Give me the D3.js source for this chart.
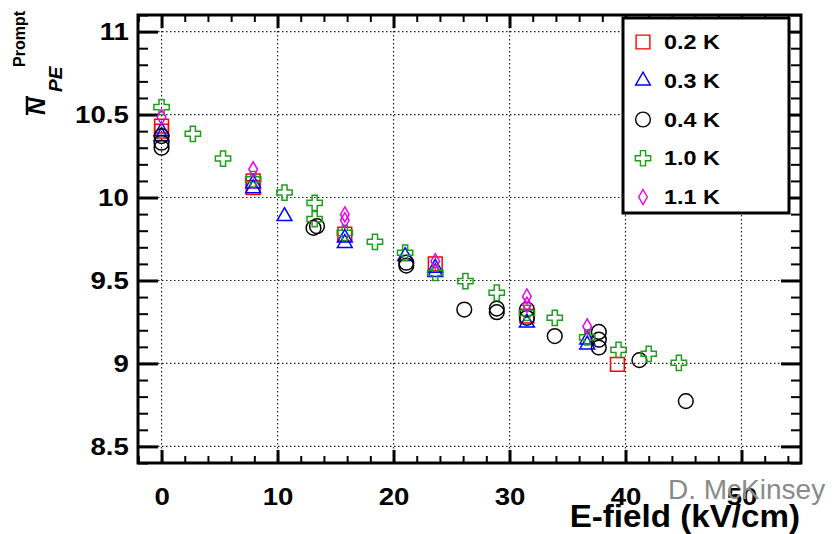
<!DOCTYPE html>
<html>
<head>
<meta charset="utf-8">
<script src="https://cdn.jsdelivr.net/npm/d3@7"></script>
<style>
  body { margin: 0; background: #fff; }
  text { font-family: "Liberation Sans", Arial, sans-serif; }
</style>
</head>
<body>
<div id="chart"></div>
<script>
// values: field (kV/cm) and mean prompt photoelectrons
const field02 = [0, 0, 7.9, 7.9, 15.8, 23.6, 31.5, 39.3];
const npe02   = [10.43, 10.40, 10.10, 10.06, 9.78, 9.60, 9.285, 8.995];

const field03 = [0, 0, 7.9, 7.9, 10.6, 15.8, 15.8, 21.0, 23.6, 23.6, 31.5, 36.7, 36.7];
const npe03   = [10.40, 10.37, 10.085, 10.055, 9.887, 9.757, 9.725, 9.646, 9.576, 9.55, 9.245, 9.143, 9.113];

const field04 = [0, 0, 0, 13.1, 13.4, 21.1, 21.1, 26.1, 28.9, 28.9, 31.5, 31.5, 33.9, 37.7, 37.7, 37.7, 41.2, 45.2];
const npe04   = [10.37, 10.33, 10.30, 9.817, 9.827, 9.607, 9.59, 9.325, 9.331, 9.309, 9.325, 9.275, 9.165, 9.19, 9.143, 9.096, 9.02, 8.773];

const field10 = [0, 2.7, 5.3, 7.9, 10.6, 13.2, 13.2, 15.8, 18.4, 21.0, 23.6, 26.2, 28.9, 31.5, 33.9, 36.7, 39.4, 42.0, 44.6];
const npe10   = [10.545, 10.384, 10.235, 10.11, 10.03, 9.968, 9.87, 9.787, 9.733, 9.667, 9.546, 9.496, 9.426, 9.305, 9.275, 9.157, 9.082, 9.058, 9.004];

const field11 = [0, 7.9, 15.8, 15.8, 23.6, 31.5, 31.5, 36.7];
const npe11   = [10.485, 10.17, 9.898, 9.863, 9.616, 9.404, 9.354, 9.223];

const legendLabels = ["0.2 K", "0.3 K", "0.4 K", "1.0 K", "1.1 K"];
const xTicks = [0, 10, 20, 30, 40, 50];
const yTicks = [8.5, 9, 9.5, 10, 10.5, 11];
const yTickLabels = ["8.5", "9", "9.5", "10", "10.5", "11"];

const width = 833, height = 534;
const plot = {left: 138, right: 801, top: 15, bottom: 463};

const svg = d3.select("#chart").append("svg")
    .attr("width", width)
    .attr("height", height);

const xScale = d3.scaleLinear().domain([-2.03, 55.13]).range([plot.left, plot.right]);
const yScale = d3.scaleLinear().domain([8.4, 11.1]).range([plot.bottom, plot.top]);

// grid
svg.append("g").selectAll("line").data(xTicks).enter().append("line")
    .attr("x1", d => xScale(d)).attr("x2", d => xScale(d))
    .attr("y1", plot.top).attr("y2", plot.bottom)
    .attr("stroke", "#222").attr("stroke-width", 1.2).attr("stroke-dasharray", "1.5,2.5");
svg.append("g").selectAll("line").data(yTicks).enter().append("line")
    .attr("y1", d => yScale(d)).attr("y2", d => yScale(d))
    .attr("x1", plot.left).attr("x2", plot.right)
    .attr("stroke", "#222").attr("stroke-width", 1.2).attr("stroke-dasharray", "1.5,2.5");

// axes, ticks pointing inside like ROOT
const xMinor = d3.range(-2, 55.01, 2);
const yMinor = d3.range(8.4, 11.101, 0.1).map(v => Math.round(v * 10) / 10);

function styleAxis(g, w) {
    g.select(".domain").remove();
    g.selectAll(".tick line").attr("stroke", "#000").attr("stroke-width", w);
}

svg.append("g").attr("transform", `translate(0,${plot.bottom})`)
    .call(d3.axisBottom(xScale).tickValues(xMinor).tickSize(-7).tickFormat(""))
    .call(g => styleAxis(g, 2));
svg.append("g").attr("transform", `translate(0,${plot.top})`)
    .call(d3.axisTop(xScale).tickValues(xMinor).tickSize(-7).tickFormat(""))
    .call(g => styleAxis(g, 2));
svg.append("g").attr("transform", `translate(${plot.left},0)`)
    .call(d3.axisLeft(yScale).tickValues(yMinor).tickSize(-10).tickFormat(""))
    .call(g => styleAxis(g, 2));
svg.append("g").attr("transform", `translate(${plot.right},0)`)
    .call(d3.axisRight(yScale).tickValues(yMinor).tickSize(-10).tickFormat(""))
    .call(g => styleAxis(g, 2));

const xAxis = svg.append("g").attr("transform", `translate(0,${plot.bottom})`)
    .call(d3.axisBottom(xScale).tickValues(xTicks).tickSize(-13).tickPadding(25).tickFormat(d3.format("d")))
    .call(g => styleAxis(g, 3));
svg.append("g").attr("transform", `translate(0,${plot.top})`)
    .call(d3.axisTop(xScale).tickValues(xTicks).tickSize(-13).tickFormat(""))
    .call(g => styleAxis(g, 3));
const yAxis = svg.append("g").attr("transform", `translate(${plot.left},0)`)
    .call(d3.axisLeft(yScale).tickValues(yTicks).tickSize(-20).tickPadding(8)
        .tickFormat((d, i) => yTickLabels[i]))
    .call(g => styleAxis(g, 3));
svg.append("g").attr("transform", `translate(${plot.right},0)`)
    .call(d3.axisRight(yScale).tickValues(yTicks).tickSize(-20).tickFormat(""))
    .call(g => styleAxis(g, 3));

// the slide stretched the plot a little horizontally
svg.selectAll(".tick text")
    .attr("font-family", "Liberation Sans, Arial, sans-serif")
    .attr("font-weight", "bold")
    .attr("font-size", 24)
    .attr("fill", "#000")
    .attr("transform", "scale(1.15,1)");

// frame
svg.append("rect")
    .attr("x", plot.left).attr("y", plot.top)
    .attr("width", plot.right - plot.left).attr("height", plot.bottom - plot.top)
    .attr("fill", "none").attr("stroke", "#000").attr("stroke-width", 3);

// markers
const series = [
    {x: field02, y: npe02, color: "#ff0000", symbol: d3.symbolSquare, size: 190},
    {x: field03, y: npe03, color: "#0000ff", symbol: d3.symbolTriangle, size: 95},
    {x: field04, y: npe04, color: "#000000", symbol: d3.symbolCircle, size: 170},
    {x: field10, y: npe10, color: "#1f9e1f", symbol: d3.symbolCross, size: 130},
    {x: field11, y: npe11, color: "#ee00ee", symbol: d3.symbolDiamond, size: 65}
];

series.forEach(function(s) {
    const pts = s.x.map((v, i) => [v, s.y[i]]);
    svg.append("g").selectAll("path").data(pts).enter().append("path")
        .attr("d", d3.symbol().type(s.symbol).size(s.size))
        .attr("transform", d => `translate(${xScale(d[0])},${yScale(d[1])})`)
        .attr("fill", "none")
        .attr("stroke", s.color)
        .attr("stroke-width", 1.5);
});

// legend
const legend = svg.append("g");
legend.append("rect")
    .attr("x", 623).attr("y", 18).attr("width", 166).attr("height", 195)
    .attr("fill", "#fff").attr("stroke", "#000").attr("stroke-width", 3);
const rowY = d3.scaleLinear().domain([0, 4]).range([42, 197]);
legendLabels.forEach(function(lab, i) {
    const s = series[i];
    legend.append("path")
        .attr("d", d3.symbol().type(s.symbol).size(s.size))
        .attr("transform", `translate(643,${rowY(i)})`)
        .attr("fill", "none").attr("stroke", s.color).attr("stroke-width", 1.4);
    legend.append("text")
        .attr("transform", `translate(664,${rowY(i) + 7}) scale(1.17,1)`)
        .attr("font-weight", "bold").attr("font-size", 20)
        .text(lab);
});

// axis titles
svg.append("text")
    .attr("transform", "translate(800,527) scale(1.07,1)")
    .attr("text-anchor", "end")
    .attr("font-weight", "bold").attr("font-size", 31)
    .text("E-field (kV/cm)");

const yTitle = svg.append("g").attr("transform", "rotate(-90)");
yTitle.append("text")
    .attr("x", -115).attr("y", 45)
    .attr("font-weight", "bold").attr("font-style", "italic").attr("font-size", 24)
    .text("N");
yTitle.append("line")
    .attr("x1", -115).attr("x2", -96).attr("y1", 27).attr("y2", 27)
    .attr("stroke", "#000").attr("stroke-width", 2.5);
yTitle.append("text")
    .attr("x", -92).attr("y", 62)
    .attr("font-weight", "bold").attr("font-style", "italic").attr("font-size", 19)
    .text("PE");
yTitle.append("text")
    .attr("x", -67).attr("y", 25)
    .attr("font-weight", "bold").attr("font-size", 16)
    .text("Prompt");

// watermark
svg.append("text")
    .attr("x", 668).attr("y", 499)
    .attr("font-family", "Open Sans, sans-serif")
    .attr("font-size", 28)
    .attr("fill", "#8a8a8a")
    .text("D. McKinsey");
</script>
</body>
</html>
